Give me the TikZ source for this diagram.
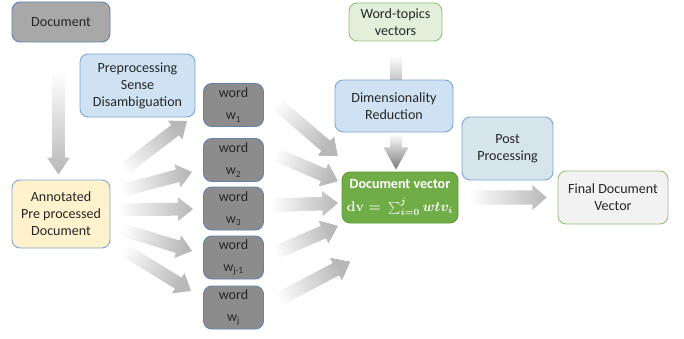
\documentclass[tikz,border=0pt]{standalone}
\usepackage[no-math]{fontspec}
\setmainfont{Carlito}
\usetikzlibrary{calc,backgrounds}
\definecolor{edgeblue}{HTML}{5E83AE}
\definecolor{lightedge}{HTML}{7EA6D3}
\definecolor{docgray}{HTML}{A8A8A8}
\definecolor{wordgray}{HTML}{8C8C8C}
\definecolor{prepblue}{HTML}{CFE2F4}
\definecolor{annyellow}{HTML}{FFF2CC}
\definecolor{topicgreen}{HTML}{E2EFDA}
\definecolor{topicedge}{HTML}{95C17A}
\definecolor{vecgreen}{HTML}{70AD47}
\definecolor{vecedge}{HTML}{5E9A38}
\definecolor{postblue}{HTML}{D6E4EB}
\definecolor{finalgray}{HTML}{F2F2F2}
\definecolor{arrowgray}{HTML}{B8B8B8}
\definecolor{arrowdark}{HTML}{7A7A7A}
\newlength{\pxu}
\setlength{\pxu}{0.03cm}
\tikzset{
  box/.style={rounded corners=7pt, line width=0.8pt, align=center, inner sep=1pt,
    font=\fontsize{12}{14.5}\selectfont, text=black!85},
  wordbox/.style={box, draw=edgeblue, fill=wordgray, minimum width=60\pxu, minimum height=43\pxu,
    font=\fontsize{12}{19}\selectfont}
}
% fat shaded arrow from #2 to #3
\def\fashaft{5.5pt}\def\fatip{10pt}\def\fahead{13pt}
\newcommand{\arrowdims}[3]{\def\fashaft{#1}\def\fatip{#2}\def\fahead{#3}}
\newcommand{\fatarrow}[3][arrowgray]{%
  \path let \p1=($(#3)-(#2)$) in \pgfextra{%
    \pgfmathsetmacro\faang{atan2(\y1,\x1)}\global\let\faang\faang
    \pgfmathsetmacro\falen{veclen(\x1,\y1)}\global\let\falen\falen};
  \pgfmathsetmacro\fashd{\faang-90}%
  \shade[shift={(#2)}, rotate=\faang, bottom color=white, top color=#1, shading angle=\fashd]
    (0pt,-\fashaft) -- ({\falen pt-\fahead},-\fashaft) -- ({\falen pt-\fahead},-\fatip)
    -- (\falen pt,0pt) -- ({\falen pt-\fahead},\fatip) -- ({\falen pt-\fahead},\fashaft)
    -- (0pt,\fashaft) -- cycle;}
\begin{document}
\begin{tikzpicture}[x=0.03cm,y=-0.03cm]
\useasboundingbox (0,0) rectangle (684,338);
\node[box, draw=edgeblue, fill=docgray, minimum width=98\pxu, minimum height=40\pxu] (doc) at (61,22) {Document};
\node[box, draw=lightedge, fill=prepblue, minimum width=115\pxu, minimum height=63\pxu] (prep) at (137.5,85.5) {Preprocessing\\Sense\\Disambiguation};
\node[box, draw=lightedge, fill=annyellow, minimum width=98\pxu, minimum height=68\pxu] (ann) at (61,214) {Annotated\\Pre processed\\Document};
\foreach \k/\ycoord/\sub in {1/105/1, 2/160/2, 3/208.5/3, 4/257.5/{j-1}, 5/307.5/j}
  \node[wordbox] (w\k) at (233.5,\ycoord) {word\\w\textsubscript{\sub}};
\node[box, draw=topicedge, fill=topicgreen, minimum width=93\pxu, minimum height=38\pxu] (wt) at (395.5,22) {Word-topics\\vectors};
\node[box, draw=lightedge, fill=prepblue, minimum width=118\pxu, minimum height=52\pxu] (dim) at (394,106) {Dimensionality\\Reduction};
\node[box, draw=vecedge, fill=vecgreen, text=white, minimum width=116\pxu, minimum height=51\pxu] (dv) at (400,197.5)
  {\textbf{Document vector}\\[5pt]{\large\boldmath$\mathbf{dv}=\,\sum_{i=0}^{j}wtv_i$}};
\node[box, draw=lightedge, fill=postblue, minimum width=91\pxu, minimum height=63\pxu] (post) at (507.5,148.5) {Post\\Processing};
\node[box, draw=topicedge, fill=finalgray, minimum width=110\pxu, minimum height=53\pxu] (fin) at (613,197.5) {Final Document\\Vector};
\begin{pgfonlayer}{background}
\arrowdims{5.5pt}{9.8pt}{14.5pt}
\fatarrow{$(doc.south)+(-2.5,28)$}{$(ann.north)+(-2.5,-5)$}
\arrowdims{5.5pt}{10.2pt}{12.8pt}
\foreach \k/\sy/\ex/\ey in {1/-39/-16/16, 2/-22/-11/12, 3/-4/-10/0.5, 4/14/-11/-6.5, 5/31/-12/-16.5}
  \fatarrow{$(ann.east)+(6,\sy)$}{$(w\k.west)+(\ex,\ey)$}
\foreach \k/\sx/\sy/\ey in {1/6/-7/-41.5, 2/6/-8/-16.5, 3/6/-3/5.5, 4/6/-2.5/28.5}
  \fatarrow{$(w\k.east)+(\sx,\sy)$}{$(dv.west)+(-4,\ey)$}
\fatarrow{$(w5.east)+(8,-4.5)$}{$(dv.west)+(8,64.5)$}
\coordinate (wtfoot) at ($(wt.south)+(-5.5,14)$);
\coordinate (dimtop) at ($(dim.north)+(8,6)$);
\shade[top color=white, bottom color=arrowgray] (wtfoot) rectangle (dimtop);
\arrowdims{5.1pt}{10.7pt}{19pt}
\fatarrow[arrowdark]{$(dim.south)+(2,1)$}{$(dv.north)+(-4,-2)$}
\arrowdims{6pt}{10.7pt}{12pt}
\fatarrow{$(dv.east)+(10,0)$}{$(fin.west)+(-11,0)$}
\end{pgfonlayer}
\end{tikzpicture}
\end{document}
